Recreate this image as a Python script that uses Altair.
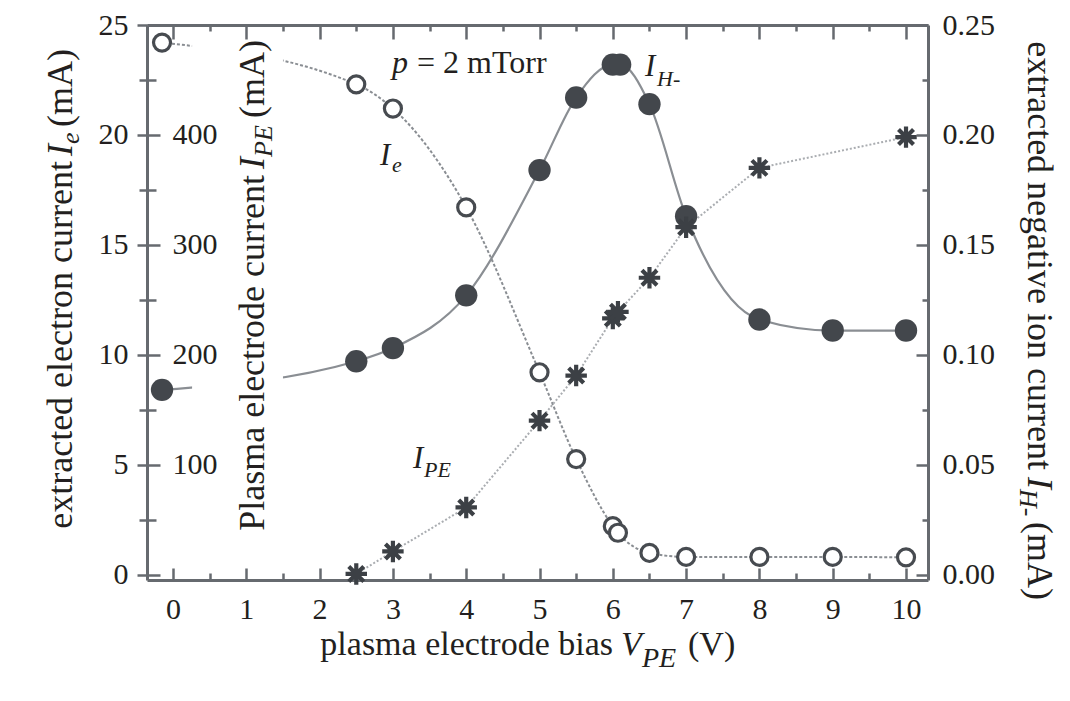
import altair as alt
import pandas as pd

# ---------------- data ----------------
# extracted electron current I_e (mA), open circles, left axis
ie_v = [-0.15, 2.5, 3.0, 4.0, 5.0, 5.5, 6.0, 6.07, 6.5, 7.0, 8.0, 9.0, 10.0]
ie_mA = [24.2, 22.3, 21.2, 16.7, 9.2, 5.25, 2.2, 1.9, 0.98, 0.8, 0.8, 0.8, 0.78]

# extracted negative ion current I_H- (mA), filled circles, right axis
ih_v = [-0.15, 2.5, 3.0, 4.0, 5.0, 5.5, 6.0, 6.1, 6.5, 7.0, 8.0, 9.0, 10.0]
ih_mA = [0.084, 0.097, 0.103, 0.127, 0.184, 0.217, 0.232, 0.232, 0.214, 0.163, 0.116, 0.111, 0.111]

# plasma electrode current I_PE (mA), asterisks, inner left axis
ipe_v = [2.5, 3.0, 4.0, 5.0, 5.5, 6.0, 6.07, 6.5, 7.0, 8.0, 10.0]
ipe_mA = [0.5, 21, 61, 140, 181, 233, 239, 270, 316, 370, 398]

x_labels = list(range(0, 11))
x_ticks = [i * 0.5 for i in range(21)]
y_ticks = [i * 2.5 for i in range(11)]
y_major = [i * 5 for i in range(6)]

# ---------------- style ----------------
F = "Liberation Serif"
TC = "#231f20"
GR = "#666a6f"
LN = "#8a8e93"
LN2 = "#aaadb1"
MK = "#43474c"
W, H = 781, 555
XD = [-0.355, 10.30]
YD = [-0.25, 25]

xs = alt.Scale(domain=XD, nice=False, zero=False)
ys = alt.Scale(domain=YD, nice=False, zero=False)


def cond(major, minor, step):
    return {"condition": {"test": f"datum.value % {step} === 0", "value": major}, "value": minor}


common = dict(grid=False, title=None, tickColor=GR, tickWidth=2.5, domainColor=GR,
              domainWidth=3, labelFont=F, labelFontSize=30, labelColor=TC,
              labelOverlap=False, labelFlush=False)

ax_x_bottom = alt.Axis(orient="bottom", values=x_labels, ticks=False, labelPadding=14,
                       domain=True, **common)
ax_x_up = alt.Axis(orient="top", offset=-H, values=x_ticks, tickSize=cond(12, 7, 1),
                   labels=False, domain=False, **common)
ax_x_down = alt.Axis(orient="bottom", offset=-H, values=x_ticks, tickSize=cond(14, 6, 1),
                     labels=False, domain=True, **common)

ax_y_left = alt.Axis(orient="left", values=y_ticks, tickSize=cond(10, 8, 5),
                     labelExpr="datum.value % 5 === 0 ? datum.label : ''",
                     labelPadding=9, domain=True, **common)
ax_y_ipe = alt.Axis(orient="right", offset=-W, values=y_ticks, tickSize=cond(13, 9, 5),
                    labelExpr="(datum.value % 5 === 0 && datum.value > 0 && datum.value < 25) ? format(datum.value * 20, 'd') : ''",
                    labelPadding=12, domain=False, zindex=1, **common)
ax_y_right = alt.Axis(orient="right", values=y_major, ticks=False,
                      labelExpr="format(datum.value / 100, '.2f')",
                      labelPadding=14, domain=True, **common)
ax_y_rticks = alt.Axis(orient="left", offset=-W, values=y_ticks, tickSize=cond(12, 6, 5),
                       labels=False, domain=False, **common)

ie_df = pd.DataFrame({"v": ie_v, "raw": ie_mA})
ih_df = pd.DataFrame({"v": ih_v, "raw": ih_mA})
ipe_df = pd.DataFrame({"v": ipe_v, "raw": ipe_mA})

ie = alt.Chart(ie_df).transform_calculate(y="datum.raw")
ih = alt.Chart(ih_df).transform_calculate(y="datum.raw * 100")
ipe = alt.Chart(ipe_df).transform_calculate(y="datum.raw / 20")

ie_line = ie.mark_line(color=LN, strokeWidth=2, strokeDash=[3, 2], interpolate="monotone").encode(
    x=alt.X("v:Q", scale=xs, axis=ax_x_bottom), y=alt.Y("y:Q", scale=ys, axis=ax_y_left))
ih_line = ih.mark_line(color=LN, strokeWidth=2.2, interpolate="monotone").encode(
    x=alt.X("v:Q", scale=xs, axis=ax_x_up), y=alt.Y("y:Q", scale=ys, axis=ax_y_right))
ipe_line = ipe.mark_line(color=LN2, strokeWidth=2, strokeDash=[2, 2]).encode(
    x=alt.X("v:Q", scale=xs, axis=ax_x_down), y=alt.Y("y:Q", scale=ys, axis=ax_y_ipe))

# white box behind the inner axis title, interrupting the curves
blank_df = pd.DataFrame({"a": [0.26], "b": [1.5]})
blank = alt.Chart(blank_df).mark_rect(color="white").encode(
    x=alt.X("a:Q", scale=xs, axis=None), x2="b:Q", y=alt.value(18), y2=alt.value(539))

STAR = "M-1,0L1,0M0,-1L0,1M-0.7,-0.7L0.7,0.7M-0.7,0.7L0.7,-0.7"
ie_pts = ie.mark_point(shape="circle", filled=False, size=290, strokeWidth=3.2, color="#474b50",
                       fill="white", fillOpacity=1).encode(
    x=alt.X("v:Q", scale=xs, axis=None), y=alt.Y("y:Q", scale=ys, axis=None))
ih_pts = ih.mark_point(shape="circle", filled=True, size=500, color=MK, opacity=1).encode(
    x=alt.X("v:Q", scale=xs, axis=None), y=alt.Y("y:Q", scale=ys, axis=ax_y_rticks))
ipe_pts = ipe.mark_point(shape=STAR, filled=False, size=460, strokeWidth=4.2, color="#3c4045",
                         opacity=1).encode(
    x=alt.X("v:Q", scale=xs, axis=None), y=alt.Y("y:Q", scale=ys, axis=None))

dummy = pd.DataFrame({"k": [0]})


def txt(t, x, y, size, italic=False, align="left", angle=0):
    # x, y in absolute page pixels -> relative to the plot origin (147, 25)
    return alt.Chart(dummy).mark_text(
        text=t, font=F, fontSize=size, fontStyle="italic" if italic else "normal",
        align=align, baseline="alphabetic", angle=angle, color=TC
    ).encode(x=alt.value(x - 147), y=alt.value(y - 25))


texts = [
    # left title (rotated, reads upward)
    txt("extracted electron current", 72, 161, 36, align="right", angle=270),
    txt("I", 72, 156, 36, italic=True, angle=270),
    txt("e", 79, 144, 26, italic=True, angle=270),
    txt("(mA)", 72, 127, 36, angle=270),
    # inner title
    txt("Plasma electrode current", 264, 175, 36, align="right", angle=270),
    txt("I", 264, 169, 36, italic=True, angle=270),
    txt("PE", 272, 157, 26, italic=True, angle=270),
    txt("(mA)", 264, 118, 36, angle=270),
    # right title (rotated, reads downward)
    txt("extracted negative ion current", 1028, 470, 36, align="right", angle=90),
    txt("I", 1028, 477, 36, italic=True, angle=90),
    txt("H-", 1020, 489, 26, italic=True, angle=90),
    txt("(mA)", 1028, 522, 36, angle=90),
    # x title
    txt("plasma electrode bias", 613, 655, 34, align="right"),
    txt("V", 621, 655, 34, italic=True),
    txt("PE", 642, 667, 28, italic=True),
    txt("(V)", 688, 655, 34),
    # annotations
    txt("p", 392, 73, 32, italic=True),
    txt("= 2 mTorr", 417, 73, 32),
    txt("I", 645, 76, 31, italic=True),
    txt("H-", 657, 86, 22, italic=True),
    txt("I", 380, 165, 31, italic=True),
    txt("e", 392, 172, 22, italic=True),
    txt("I", 413, 468, 31, italic=True),
    txt("PE", 424, 477, 22, italic=True),
]

chart = alt.layer(
    ie_line, ih_line, ipe_line, blank, ie_pts, ih_pts, ipe_pts, *texts
).resolve_scale(x="shared", y="shared").resolve_axis(
    x="independent", y="independent"
).properties(
    width=W, height=H,
    autosize=alt.AutoSizeParams(type="none"),
    padding={"left": 139, "top": 17, "right": 134, "bottom": 100},
    background="white",
).configure_view(stroke=None)

chart.save("out.html", embed_options={"renderer": "svg", "actions": False})
